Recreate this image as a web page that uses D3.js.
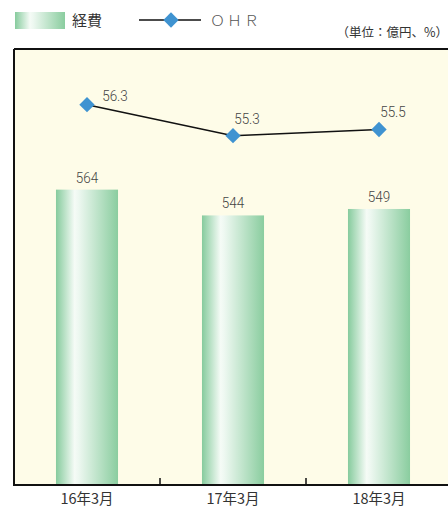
<!DOCTYPE html>
<html><head><meta charset="utf-8">
<script src="https://cdn.jsdelivr.net/npm/d3@7"></script>
<style>
html,body{margin:0;padding:0;background:#fff;}
svg{display:block;}
</style></head>
<body>
<svg id="c" width="448" height="507"></svg>
<script>
const categories = ["16年3月", "17年3月", "18年3月"];
const expenses = [564, 544, 549];
const ohr = [56.3, 55.3, 55.5];
const legendLabels = ["経費", "ＯＨＲ"];
const unitLabel = "（単位：億円、%）";

const svg = d3.select("#c");
const plot = {left: 14, top: 49, right: 452, bottom: 485};
const numFont = "Roboto,'Liberation Sans',Arial,sans-serif";
const jpFont = "'Noto Sans CJK JP','Noto Sans',sans-serif";

const defs = svg.append("defs");
const grad = defs.append("linearGradient").attr("id", "barGrad")
  .attr("x1", "0%").attr("x2", "100%").attr("y1", "0%").attr("y2", "0%");
[[0, "#86cb9d"], [0.3, "#f5fbf6"], [0.36, "#eef8f1"], [1, "#8acd9f"]].forEach(([o, c]) =>
  grad.append("stop").attr("offset", o).attr("stop-color", c));

svg.append("rect").attr("x", plot.left).attr("y", plot.top)
  .attr("width", plot.right - plot.left).attr("height", plot.bottom - plot.top)
  .attr("fill", "#fefce8");

const x = d3.scaleBand().domain(categories).range([plot.left, plot.right]).padding(0);
const yBar = d3.scaleLinear().domain([335, 680]).range([plot.bottom, 40]);
const yLine = d3.scaleLinear().domain([50, 60]).range([300, -10]);
const barW = x.bandwidth() * 0.425;
const cx = i => x(categories[i]) + x.bandwidth() / 2;

svg.selectAll("rect.bar").data(expenses).join("rect").attr("class", "bar")
  .attr("x", (d, i) => cx(i) - barW / 2)
  .attr("y", d => yBar(d))
  .attr("width", barW)
  .attr("height", d => plot.bottom - yBar(d))
  .attr("fill", "url(#barGrad)");

svg.selectAll("text.bv").data(expenses).join("text").attr("class", "bv")
  .attr("x", (d, i) => cx(i))
  .attr("y", d => yBar(d) - 7)
  .attr("text-anchor", "middle")
  .attr("font-family", numFont).attr("font-weight", 300).attr("font-size", 15).attr("fill", "#444")
  .attr("transform", (d, i) => `translate(${cx(i)},0) scale(0.9,1) translate(${-cx(i)},0)`)
  .text(d => d);

svg.append("path")
  .attr("d", `M${plot.left},${plot.top}H${plot.right}M${plot.left},${plot.top}V${plot.bottom}H${plot.right}`)
  .attr("fill", "none").attr("stroke", "#111").attr("stroke-width", 2);

const xAxis = d3.axisBottom(x).tickSize(0).tickPadding(0);
const gx = svg.append("g").attr("transform", `translate(0,${plot.bottom})`).call(xAxis);
gx.select(".domain").remove();
gx.selectAll("text").attr("dy", null).attr("y", 19)
  .attr("font-family", jpFont).attr("font-size", 14.5).attr("fill", "#333");
svg.selectAll("line.sep").data(categories.slice(1)).join("line").attr("class", "sep")
  .attr("x1", d => x(d)).attr("x2", d => x(d))
  .attr("y1", plot.bottom).attr("y2", plot.bottom - 7)
  .attr("stroke", "#111").attr("stroke-width", 1.5);

const line = d3.line().x((d, i) => cx(i)).y(d => yLine(d));
svg.append("path").datum(ohr).attr("d", line)
  .attr("fill", "none").attr("stroke", "#111").attr("stroke-width", 1.6);
const diamond = d3.symbol().type(d3.symbolDiamond2).size(150);
svg.selectAll("path.mk").data(ohr).join("path").attr("class", "mk")
  .attr("transform", (d, i) => `translate(${cx(i)},${yLine(d)})`)
  .attr("d", diamond).attr("fill", "#3f93d1");
svg.selectAll("text.lv").data(ohr).join("text").attr("class", "lv")
  .attr("x", (d, i) => cx(i) + (i === 0 ? 28 : 14))
  .attr("y", (d, i) => yLine(d) - (i === 0 ? 4 : 12))
  .attr("text-anchor", "middle")
  .attr("font-family", numFont).attr("font-weight", 300).attr("font-size", 15).attr("fill", "#444")
  .attr("transform", (d, i) => { const tx = cx(i) + (i === 0 ? 28 : 14); return `translate(${tx},0) scale(0.9,1) translate(${-tx},0)`; })
  .text(d => d.toFixed(1));

svg.append("rect").attr("x", 15).attr("y", 12).attr("width", 50).attr("height", 17)
  .attr("fill", "url(#barGrad)");
svg.append("text").attr("x", 72).attr("y", 26).attr("font-family", jpFont)
  .attr("font-size", 15).attr("fill", "#333").text(legendLabels[0]);
svg.append("line").attr("x1", 139).attr("x2", 201).attr("y1", 20).attr("y2", 20)
  .attr("stroke", "#111").attr("stroke-width", 1.6);
svg.append("path").attr("transform", "translate(171,20)").attr("d", diamond).attr("fill", "#3f93d1");
svg.append("text").attr("x", 210).attr("y", 26).attr("font-family", jpFont)
  .attr("font-size", 15).attr("font-weight", 300).attr("fill", "#555").attr("letter-spacing", 2).text(legendLabels[1]);
svg.append("text").attr("x", 448).attr("y", 37).attr("text-anchor", "end")
  .attr("font-family", jpFont).attr("font-size", 12.5).attr("fill", "#333").text(unitLabel);
</script>
</body></html>
